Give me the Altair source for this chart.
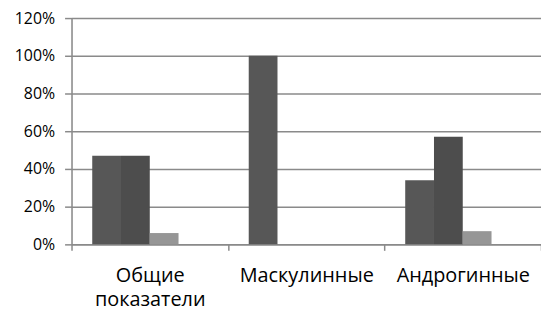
import altair as alt
import pandas as pd

categories = ["Общие\nпоказатели", "Маскулинные", "Андрогинные"]
series = ["Ряд 1", "Ряд 2", "Ряд 3", "Ряд 4"]
values_s1 = [0.47, 1.00, 0.34]
values_s2 = [0.47, 0.00, 0.57]
values_s3 = [0.06, 0.00, 0.07]
values_s4 = [0.00, 0.00, 0.00]
colors = ["#575757", "#4d4d4d", "#969696", "#c8c8c8"]
y_ticks = [0, 0.2, 0.4, 0.6, 0.8, 1.0, 1.2]

rows = []
for s, vals in zip(series, [values_s1, values_s2, values_s3, values_s4]):
    for c, v in zip(categories, vals):
        rows.append({"cat": c, "series": s, "value": v})
df = pd.DataFrame(rows)

font = "Open Sans"
grid = "#8a8a8a"

chart = alt.Chart(df).mark_bar().encode(
    x=alt.X("cat:N", sort=categories, title=None,
            scale=alt.Scale(paddingInner=0, paddingOuter=0),
            axis=alt.Axis(labelAngle=0, tickBand="extent", domainColor=grid,
                          tickColor=grid, domainWidth=1.5, tickWidth=1.5, tickSize=6,
                          labelFont=font, labelFontSize=20, labelColor="#000",
                          labelPadding=15, labelLineHeight=25,
                          labelExpr="split(datum.label, '\\n')")),
    xOffset=alt.XOffset("series:N", sort=series,
                        scale=alt.Scale(paddingInner=0, paddingOuter=0.72)),
    y=alt.Y("value:Q", title=None,
            scale=alt.Scale(domain=[0, 1.2], nice=False),
            axis=alt.Axis(values=y_ticks, format=".0%", gridColor=grid, gridWidth=1.5,
                          domainColor=grid, domainWidth=1.5, tickColor=grid,
                          tickWidth=1.5, tickSize=7, labelFont=font, labelFontSize=16,
                          labelColor="#000", labelPadding=10)),
    color=alt.Color("series:N", sort=series,
                    scale=alt.Scale(domain=series, range=colors), legend=None),
).properties(
    width=473, height=228,
    autosize=alt.AutoSizeParams(type="none"),
    padding={"left": 64, "top": 9, "right": 0, "bottom": 67},
).configure_view(stroke=None).configure(background="white")

chart.save("out.html", embed_options={"renderer": "svg", "actions": False})
